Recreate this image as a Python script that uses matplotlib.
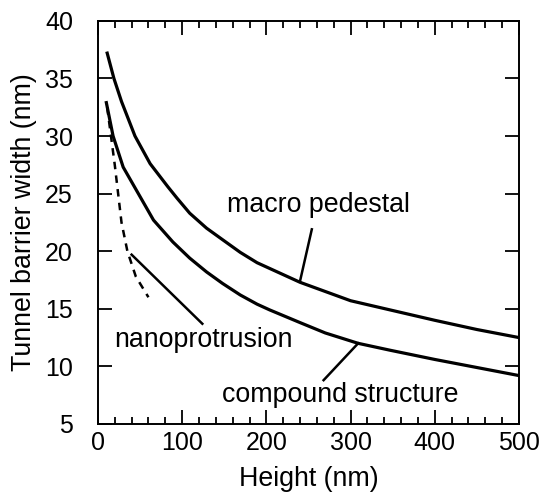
import numpy as np
import matplotlib.pyplot as plt

plt.rcParams['font.family'] = ['Liberation Sans', 'DejaVu Sans']

# values
macro_x = [11, 19, 28, 44, 62, 83, 94, 109, 129, 148, 169, 189, 204, 240, 300, 347, 400, 450, 500]
macro_y = [37.2, 35.0, 33.0, 30.0, 27.6, 25.6, 24.6, 23.3, 22.0, 21.0, 19.9, 19.0, 18.5, 17.3,
           15.7, 14.9, 14.0, 13.2, 12.5]

compound_x = [10, 18, 30, 48, 66, 89, 109, 129, 148, 169, 189, 204, 240, 270, 309, 347, 400, 450, 500]
compound_y = [32.9, 30.0, 27.3, 25.0, 22.7, 20.8, 19.4, 18.2, 17.2, 16.2, 15.4, 14.9, 13.8, 12.9,
              12.0, 11.4, 10.6, 9.9, 9.2]

nano_x = [11, 15.5, 20, 24, 28, 35, 45, 60]
nano_y = [32.5, 30.0, 27.5, 25.0, 22.5, 20.0, 17.8, 16.0]

fig = plt.figure(figsize=(5.44, 4.97), dpi=100)
ax = fig.add_axes([0.180, 0.147, 0.774, 0.811])

lw = 2.3
ax.plot(macro_x, macro_y, color='black', lw=lw)
ax.plot(compound_x, compound_y, color='black', lw=lw)
ax.plot(nano_x, nano_y, color='black', lw=lw - 0.5, ls=(0, (3, 2.5)))

# labels with leader lines
fs = 19.3
ax.text(153, 24.0, 'macro pedestal', fontsize=fs, va='center', ha='left')
ax.plot([254, 240], [21.9, 17.4], color='black', lw=1.8)

ax.text(19, 12.3, 'nanoprotrusion', fontsize=fs, va='center', ha='left')
ax.plot([40, 124], [19.7, 13.7], color='black', lw=1.8)

ax.text(147, 7.5, 'compound structure', fontsize=fs, va='center', ha='left')
ax.plot([268, 309], [8.8, 12.0], color='black', lw=1.8)

ax.set_xlim(0, 500)
ax.set_ylim(5, 40)
ax.set_xticks(np.arange(0, 501, 100))
ax.set_xticks(np.arange(0, 501, 20), minor=True)
ax.set_yticks(np.arange(5, 41, 5))

for s in ax.spines.values():
    s.set_linewidth(1.4)

tfs = 18
ax.tick_params(axis='x', which='both', direction='in', top=True, width=1.3, labelsize=tfs, pad=5)
ax.tick_params(axis='y', which='both', direction='in', right=True, width=1.3, labelsize=tfs, pad=18)
ax.tick_params(which='major', length=10)
ax.tick_params(which='minor', length=5)

ax.set_xlabel('Height (nm)', fontsize=fs, labelpad=8)
ax.set_ylabel('Tunnel barrier width (nm)', fontsize=fs, labelpad=6)

fig.savefig('out.png', dpi=100)
